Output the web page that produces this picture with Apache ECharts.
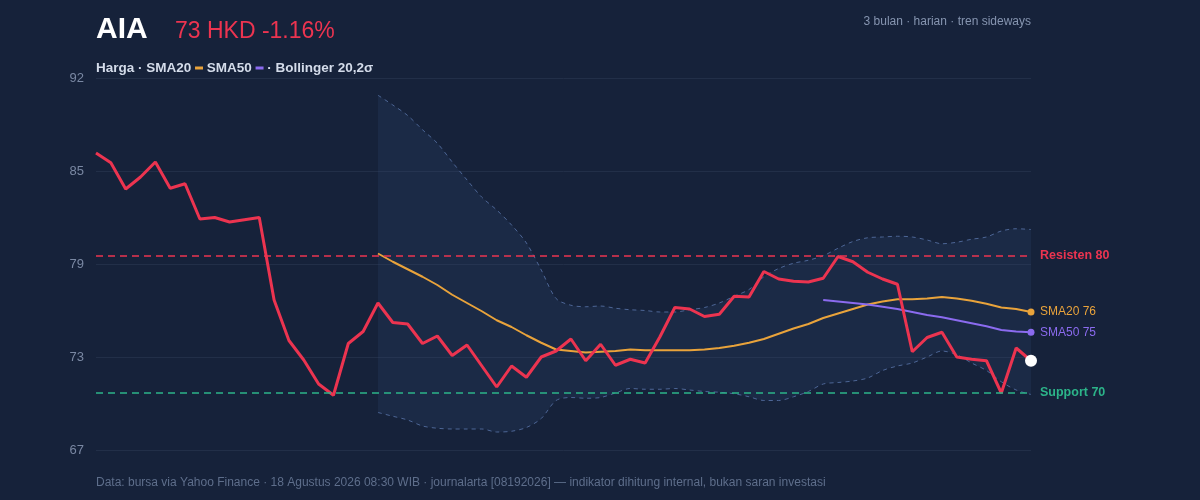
<!DOCTYPE html>
<html lang="id">
<head>
<meta charset="UTF-8">
<title>AIA</title>
<script src="https://cdn.jsdelivr.net/npm/echarts@6/dist/echarts.min.js"></script>
<style>
  html, body { margin: 0; padding: 0; background: #16223a; }
  #main { width: 1200px; height: 500px; }
</style>
</head>
<body>
<div id="main"></div>
<script>
// harga penutupan harian, 64 hari bursa
var price = [86.6, 85.95, 84.2, 85.0, 86.0, 84.25, 84.55, 82.2, 82.3, 82.0,
  82.15, 82.3, 76.8, 74.1, 72.8, 71.2, 70.45, 73.9, 74.7, 76.6,
  75.3, 75.2, 73.9, 74.4, 73.1, 73.8, 72.4, 71.0, 72.4, 71.65,
  73.0, 73.4, 74.2, 72.75, 73.85, 72.45, 72.85, 72.6, 74.35, 76.3,
  76.2, 75.7, 75.85, 77.05, 77.0, 78.7, 78.2, 78.05, 78.0, 78.25,
  79.7, 79.35, 78.65, 78.2, 77.85, 73.35, 74.3, 74.65, 73.0, 72.85,
  72.75, 70.6, 73.6, 72.75];

// SMA20 mulai hari ke-20, SMA50 mulai hari ke-50
var sma20 = [79.9, 79.35, 78.85, 78.35, 77.8, 77.15, 76.6, 76.05, 75.45, 75.0,
  74.45, 73.95, 73.5, 73.4, 73.3, 73.35, 73.4, 73.5, 73.45, 73.45, 73.45,
  73.45, 73.5, 73.6, 73.75, 73.95, 74.2, 74.55, 74.9, 75.2, 75.6, 75.9,
  76.2, 76.5, 76.7, 76.85, 76.85, 76.9, 77.0, 76.9, 76.75, 76.55, 76.3, 76.2, 76.0];
var sma50 = [76.8, 76.7, 76.6, 76.5, 76.35, 76.2, 76.0, 75.8, 75.65, 75.45,
  75.25, 75.05, 74.8, 74.7, 74.65];

// Bollinger 20,2σ
var bbUpper = [90.45, 89.8, 89.1, 88.15, 87.25, 86.0, 84.8, 83.65, 82.8, 81.8,
  80.6, 78.8, 76.9, 76.45, 76.35, 76.4, 76.25, 76.15, 76.1, 76.0, 76.0,
  76.15, 76.3, 76.6, 77.05, 77.5, 78.35, 78.9, 79.25, 79.45, 79.75, 80.25,
  80.7, 80.95, 81.0, 81.05, 81.0, 80.8, 80.55, 80.65, 80.85, 81.0, 81.4, 81.55, 81.5];
var bbLower = [69.3, 69.05, 68.8, 68.4, 68.25, 68.2, 68.2, 68.2, 68.0, 68.05,
  68.3, 68.9, 70.1, 70.3, 70.25, 70.3, 70.6, 70.9, 70.85, 70.85, 70.9,
  70.8, 70.7, 70.65, 70.55, 70.35, 70.1, 70.1, 70.35, 70.7, 71.2, 71.3,
  71.4, 71.6, 72.1, 72.4, 72.6, 73.0, 73.4, 73.15, 72.6, 72.1, 71.35, 70.8, 70.5];

var resistance = 79.75;
var support = 70.6;
var yTicks = [66.8, 91.6, 6.2]; // min, max, interval

var days = price.map(function (v, i) { return 'H' + (i + 1); });

function pad(arr) {
  var out = [];
  for (var i = 0; i < price.length - arr.length; i++) out.push('-');
  return out.concat(arr);
}

var bandWidth = bbUpper.map(function (u, i) { return +(u - bbLower[i]).toFixed(2); });
var last = price.length - 1;

var FONT = 'Liberation Sans, Arial, sans-serif';
var RED = '#ec3450', ORANGE = '#e9a33b', PURPLE = '#8b6bef', GREEN = '#2cb489';
var BAND = '#4d6696';

var myChart = echarts.init(document.getElementById('main'));

var option = {
  backgroundColor: '#16223a',
  animation: false,
  textStyle: { fontFamily: FONT },
  title: [
    { text: 'AIA', left: 96, top: 15, padding: 0,
      textStyle: { color: '#ffffff', fontSize: 30, fontWeight: 'bold', fontFamily: FONT } },
    { text: '73 HKD -1.16%', left: 175, top: 20, padding: 0,
      textStyle: { color: RED, fontSize: 23, fontWeight: 'normal', fontFamily: FONT } },
    { text: '3 bulan · harian · tren sideways', right: 169, top: 16, padding: 0,
      textStyle: { color: '#8695b0', fontSize: 12, fontWeight: 'normal', fontFamily: FONT } },
    { text: '{a|Harga · SMA20 }{o|}{a| SMA50 }{p|}{a| · Bollinger 20,2σ}', left: 96, top: 61, padding: 0,
      textStyle: {
        fontFamily: FONT,
        rich: {
          a: { color: '#d4dcea', fontSize: 13.5, fontWeight: 'bold', fontFamily: FONT },
          o: { width: 8, height: 3, backgroundColor: ORANGE },
          p: { width: 8, height: 3, backgroundColor: PURPLE }
        }
      } },
    { text: 'Data: bursa via Yahoo Finance · 18 Agustus 2026 08:30 WIB · journalarta [08192026] — indikator dihitung internal, bukan saran investasi',
      left: 96, top: 477, padding: 0,
      textStyle: { color: '#5e6e8b', fontSize: 12, fontWeight: 'normal', fontFamily: FONT } }
  ],
  grid: { left: 96, right: 169, top: 78, bottom: 50 },
  xAxis: {
    type: 'category',
    data: days,
    boundaryGap: false,
    axisLine: { show: false },
    axisTick: { show: false },
    axisLabel: { show: false },
    splitLine: { show: false }
  },
  yAxis: {
    type: 'value',
    min: yTicks[0],
    max: yTicks[1],
    interval: yTicks[2],
    axisLine: { show: false },
    axisTick: { show: false },
    axisLabel: {
      color: '#7a88a3', fontSize: 13, margin: 12,
      formatter: function (v) { return Math.round(v); }
    },
    splitLine: { lineStyle: { color: '#222f48', width: 1 } }
  },
  series: [
    {
      name: 'BB bawah', type: 'line', data: pad(bbLower), stack: 'bb',
      smooth: 0.3, showSymbol: false, silent: true,
      lineStyle: { color: BAND, width: 1, type: [4, 4] }
    },
    {
      name: 'BB lebar', type: 'line', data: pad(bandWidth), stack: 'bb',
      smooth: 0.3, showSymbol: false, silent: true,
      lineStyle: { color: BAND, width: 1, type: [4, 4] },
      areaStyle: { color: 'rgba(50,75,120,0.28)', origin: 'auto' }
    },
    {
      name: 'SMA20', type: 'line', data: pad(sma20),
      showSymbol: false, lineStyle: { color: ORANGE, width: 2 },
      endLabel: { show: true, formatter: 'SMA20 76', color: ORANGE, fontSize: 12, distance: 9 },
      markLine: {
        symbol: 'none', silent: true,
        lineStyle: { color: GREEN, type: [7, 5], width: 1.6, opacity: 1 },
        label: { formatter: 'Support 70', color: GREEN, fontWeight: 'bold', fontSize: 12.5, position: 'end', distance: 9 },
        data: [{ yAxis: support }]
      }
    },
    {
      name: 'SMA50', type: 'line', data: pad(sma50),
      showSymbol: false, lineStyle: { color: PURPLE, width: 2 },
      endLabel: { show: true, formatter: 'SMA50 75', color: PURPLE, fontSize: 12, distance: 9 }
    },
    {
      name: 'Harga', type: 'line', data: price,
      showSymbol: false, lineStyle: { color: RED, width: 3 },
      markLine: {
        symbol: 'none', silent: true,
        lineStyle: { color: RED, type: [7, 5], width: 1.6, opacity: 1 },
        label: { formatter: 'Resisten 80', color: RED, fontWeight: 'bold', fontSize: 12.5, position: 'end', distance: 9 },
        data: [{ yAxis: resistance }]
      }
    },
    {
      name: 'ujung', type: 'scatter', silent: true, z: 5,
      itemStyle: { opacity: 1 },
      data: [
        { value: [last, sma20[sma20.length - 1]], symbolSize: 7, itemStyle: { color: ORANGE, opacity: 1 } },
        { value: [last, sma50[sma50.length - 1]], symbolSize: 7, itemStyle: { color: PURPLE, opacity: 1 } },
        { value: [last, price[last]], symbolSize: 12, itemStyle: { color: '#ffffff', opacity: 1 } }
      ]
    }
  ]
};

myChart.setOption(option);
</script>
</body>
</html>
